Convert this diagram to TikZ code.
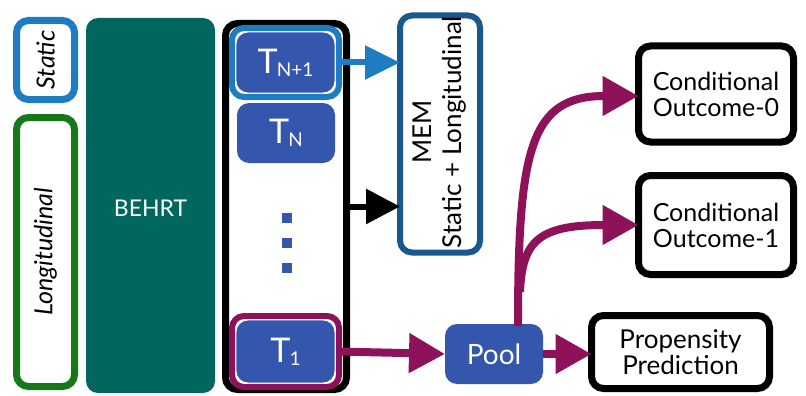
\documentclass[tikz,border=0pt]{standalone}
\usepackage{fontspec}
\setmainfont{Lato}
\usetikzlibrary{arrows.meta,calc}
\definecolor{behrt}{RGB}{0,102,94}
\definecolor{tok}{RGB}{52,86,172}
\definecolor{lblue}{RGB}{30,125,194}
\definecolor{dblue}{RGB}{24,88,140}
\definecolor{lgreen}{RGB}{22,120,24}
\definecolor{maroon}{RGB}{142,18,89}
\newcommand{\fs}[1]{\fontsize{#1}{#1}\selectfont}
\newcommand{\tokT}[1]{{\fs{34}T}\kern-1pt\raisebox{-3pt}{\fs{19}#1}}
\begin{document}
\begin{tikzpicture}[x=1pt,y=-1pt,
  bx/.style={rounded corners=12pt, inner sep=0pt, outer sep=0pt},
  outbox/.style={bx, draw=black, line width=7pt, fill=white, align=center, font=\fs{25}, text depth=0pt},
  tokbox/.style={bx, fill=tok, text=white, draw=white, line width=0.8pt},
  ring/.style={bx, line width=6pt},
  marrow/.style={draw=maroon, line width=8pt, -{Triangle[length=36pt,width=38pt]}},
]
\useasboundingbox (0,0) rectangle (806,396);
% left inputs
\node[bx, draw=lblue, line width=7pt, minimum width=58pt, minimum height=79pt] (static) at (45.5,60) {};
\node[rotate=90, font=\fs{25}\itshape] at (static.center) {Static};
\node[bx, draw=lgreen, line width=7pt, minimum width=58pt, minimum height=269pt] (long) at (45.5,252) {};
\node[rotate=90, font=\fs{25}\itshape] at (long.center) {Longitudinal};
% BEHRT
\node[bx, fill=behrt, minimum width=129pt, minimum height=375pt] (behrt) at (150.5,205.5) {};
\node[text=white, font=\fs{23}] at (150.5,208) {BEHRT};
% big box
\node[bx, draw=black, line width=7pt, minimum width=121pt, minimum height=366pt] (big) at (286,206.5) {};
% tokens
\node[ring, draw=lblue, minimum width=107pt, minimum height=69pt] (tn1r) at (285.5,62.5) {};
\node[tokbox, minimum width=99pt, minimum height=61pt] (tn1) at (285.5,62.5) {\tokT{N+1}};
\node[tokbox, draw=none, minimum width=98pt, minimum height=60pt] (tn) at (286,133) {\tokT{N}};
\node[ring, draw=maroon, minimum width=107pt, minimum height=71pt] (t1r) at (285.5,351.5) {};
\node[tokbox, minimum width=99pt, minimum height=63pt] (t1) at (285.5,351.5) {\tokT{1}};
\foreach \yy/\nm in {218/d1,243/d2,268/d3}
  \node[fill=tok, minimum size=10pt, inner sep=0pt] (\nm) at (287,\yy) {};
% MEM
\node[bx, draw=dblue, line width=6pt, minimum width=80pt, minimum height=237pt] (mem) at (440,134) {};
\node[rotate=90, align=center, font=\fs{26}] at (440,132) {MEM\\[4pt]Static + Longitudinal};
% Pool
\node[bx, fill=tok, text=white, minimum width=98pt, minimum height=60pt, font=\fs{28}] (pool) at (494,354) {Pool};
% outputs
\node[outbox, minimum width=155pt, minimum height=96pt] (o0) at (716,94) {Conditional\\[1pt]Outcome-0};
\node[outbox, minimum width=155pt, minimum height=99pt] (o1) at (716,225) {Conditional\\[1pt]Outcome-1};
\node[outbox, minimum width=178pt, minimum height=73pt, font=\fs{26}] (prop) at (680.5,352) {Propensity\\[0pt]Prediction};
% arrows
\draw[draw=lblue, line width=6pt, -{Triangle[length=35pt,width=33pt]}] (tn1r.east) -- (tn1r.east -| mem.west);
\draw[draw=black, line width=6pt, -{Triangle[length=34pt,width=34pt]}] (big.east) -- (big.east -| mem.west);
\draw[marrow] (t1r.east) -- (pool.west);
\draw[marrow] (pool.east) -- (pool.east -| prop.west);
\coordinate (trunk) at ($(pool.north)+(24,2)$);
\coordinate (br) at (520,292);
\draw[marrow] (trunk) .. controls (518,150) and (530,96) .. (o0.west |- 0,96);
\draw[marrow] (br) .. controls (522,240) and (540,225) .. (o1.west);
\end{tikzpicture}
\end{document}
